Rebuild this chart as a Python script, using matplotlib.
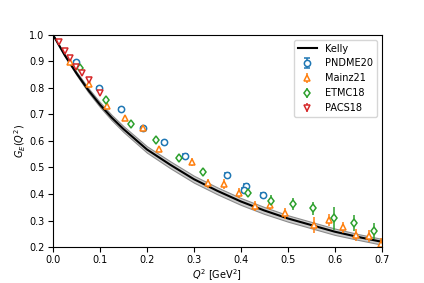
import numpy as np
import matplotlib
matplotlib.use('Agg')
import matplotlib.pyplot as plt

plt.rcParams['font.size'] = 7

# Kelly curve and band
kelly_q2 = [0.00, 0.025, 0.05, 0.075, 0.10, 0.125, 0.15, 0.20, 0.25, 0.30, 0.35, 0.40, 0.45, 0.50, 0.55, 0.60, 0.65, 0.70]
kelly_ge = [1.000, 0.923, 0.855, 0.792, 0.737, 0.688, 0.645, 0.568, 0.510, 0.456, 0.412, 0.372, 0.338, 0.308, 0.283, 0.258, 0.238, 0.220]
kelly_err = [0.0, 0.003, 0.006, 0.008, 0.009, 0.010, 0.011, 0.012, 0.013, 0.013, 0.013, 0.013, 0.013, 0.012, 0.012, 0.012, 0.011, 0.011]

pndme_q2 = [0.050, 0.097, 0.144, 0.191, 0.237, 0.282, 0.370, 0.411, 0.406, 0.448]
pndme_ge = [0.897, 0.800, 0.721, 0.648, 0.595, 0.543, 0.473, 0.431, 0.415, 0.396]
pndme_err = [0.005, 0.005, 0.005, 0.005, 0.006, 0.006, 0.006, 0.007, 0.007, 0.007]

mainz_q2 = [0.037, 0.077, 0.115, 0.154, 0.191, 0.226, 0.297, 0.331, 0.364, 0.397,
            0.430, 0.462, 0.494, 0.555, 0.587, 0.618, 0.646, 0.674, 0.698]
mainz_ge = [0.897, 0.815, 0.732, 0.686, 0.648, 0.570, 0.522, 0.440, 0.437, 0.403,
            0.355, 0.358, 0.327, 0.283, 0.302, 0.274, 0.245, 0.242, 0.210]
mainz_err = [0.006, 0.007, 0.008, 0.008, 0.009, 0.010, 0.015, 0.017, 0.018, 0.018,
             0.020, 0.020, 0.020, 0.030, 0.022, 0.022, 0.024, 0.024, 0.025]

etmc_q2 = [0.057, 0.112, 0.166, 0.219, 0.269, 0.319, 0.416, 0.464, 0.511, 0.554, 0.598, 0.642, 0.684]
etmc_ge = [0.874, 0.755, 0.663, 0.604, 0.535, 0.484, 0.405, 0.375, 0.362, 0.346, 0.308, 0.289, 0.261]
etmc_err = [0.006, 0.008, 0.009, 0.010, 0.012, 0.013, 0.018, 0.020, 0.023, 0.025, 0.044, 0.030, 0.030]

pacs_q2 = [0.013, 0.025, 0.037, 0.050, 0.062, 0.077, 0.101]
pacs_ge = [0.972, 0.940, 0.912, 0.880, 0.855, 0.830, 0.782]
pacs_err = [0.003, 0.004, 0.004, 0.005, 0.005, 0.006, 0.006]

fig, ax = plt.subplots(figsize=(4.24, 2.83), dpi=100)
fig.subplots_adjust(left=0.125, right=0.9, bottom=0.127, top=0.877)

kq = np.array(kelly_q2)
kg = np.array(kelly_ge)
ke = np.array(kelly_err)
ax.fill_between(kq, kg - ke, kg + ke, facecolor='0.8', edgecolor='0.55', lw=0.8)
ax.plot(kq, kg, color='k', lw=1.5, label='Kelly')

mk = dict(ls='none', markerfacecolor='white', ms=4.5, mew=1.1, elinewidth=1.1)
ax.errorbar(pndme_q2, pndme_ge, yerr=pndme_err, marker='o', color='C0', label='PNDME20', capsize=2, **mk)
ax.errorbar(mainz_q2, mainz_ge, yerr=mainz_err, marker='^', color='C1', label='Mainz21', **mk)
ax.errorbar(etmc_q2, etmc_ge, yerr=etmc_err, marker='d', color='C2', label='ETMC18', **mk)
ax.errorbar(pacs_q2, pacs_ge, yerr=pacs_err, marker='v', color='C3', label='PACS18', **mk)

ax.set_xlim(0, 0.7)
ax.set_ylim(0.2, 1.0)
ax.set_xticks(np.arange(0, 0.71, 0.1))
ax.set_yticks(np.arange(0.2, 1.01, 0.1))
ax.tick_params(pad=2.5)
ax.set_xlabel(r'$Q^2$ [GeV$^2$]', labelpad=1.5)
ax.set_ylabel(r'$G_E(Q^2)$', labelpad=1)
ax.legend(loc='upper right')

plt.savefig('out.png', dpi=100)
